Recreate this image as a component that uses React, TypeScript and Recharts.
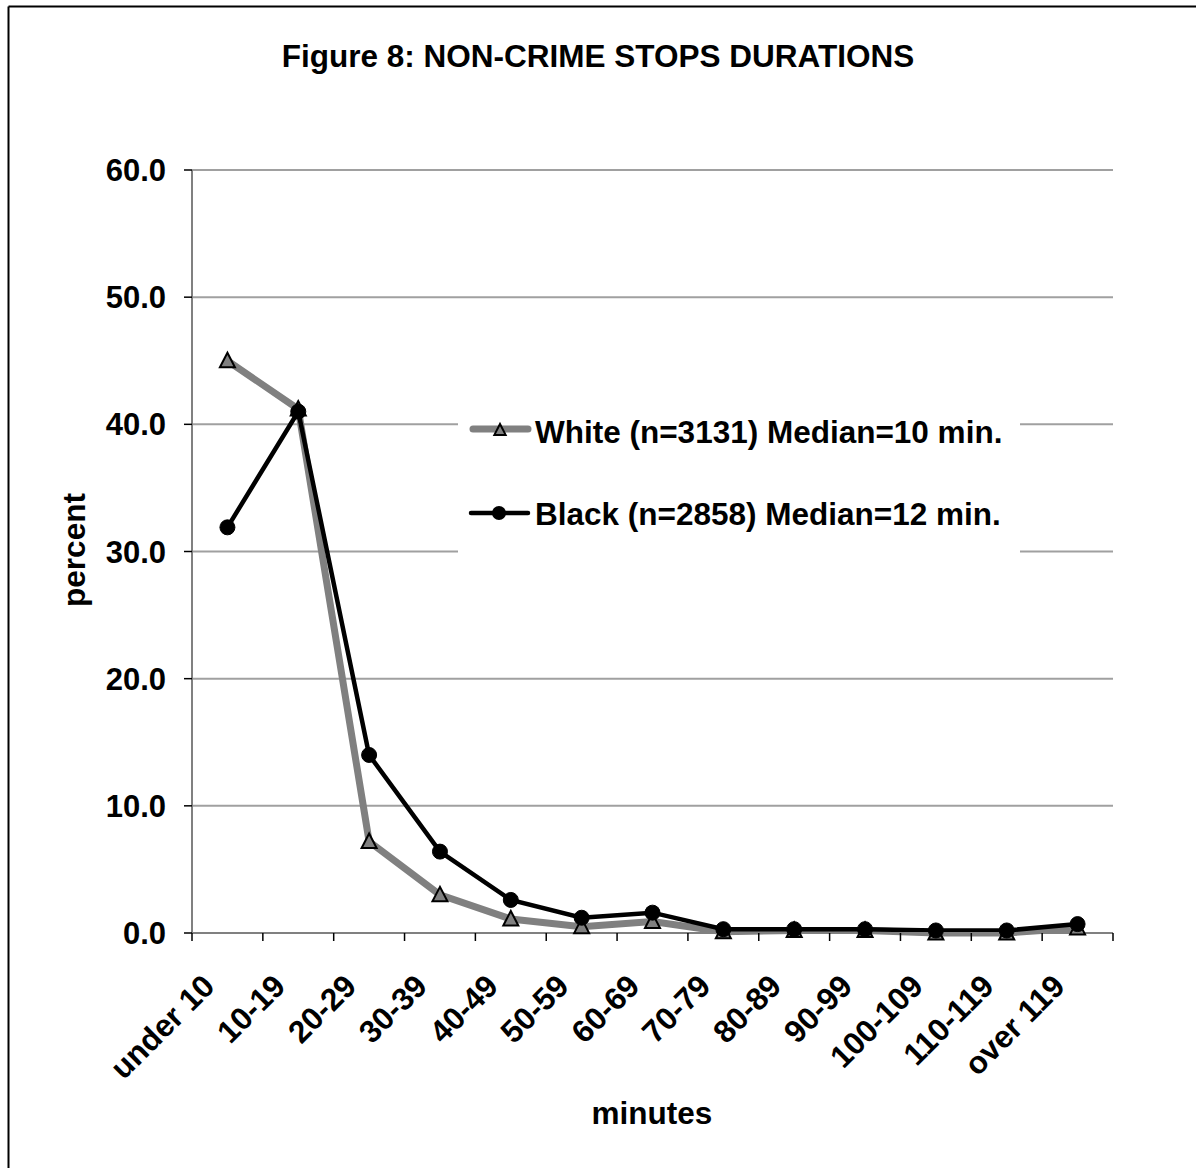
import React from "react";
import { LineChart, Line, XAxis, YAxis, CartesianGrid, Legend } from "recharts";

// durations of non-crime stops, percent of stops in each bracket
const categories = [
  "under 10", "10-19", "20-29", "30-39", "40-49", "50-59", "60-69",
  "70-79", "80-89", "90-99", "100-109", "110-119", "over 119",
];
const whitePct = [45.0, 41.2, 7.2, 3.0, 1.1, 0.5, 0.9, 0.1, 0.2, 0.2, 0.0, 0.0, 0.4];
const blackPct = [31.9, 41.0, 14.0, 6.4, 2.6, 1.2, 1.6, 0.3, 0.3, 0.3, 0.2, 0.2, 0.7];
const yTicks = [0, 10, 20, 30, 40, 50, 60];

const WHITE_LABEL = "White (n=3131) Median=10 min.";
const BLACK_LABEL = "Black (n=2858) Median=12 min.";

const W = 1196;
const H = 1168;
const Y_AXIS_W = 100;
const X_AXIS_H = 120;
const MARGIN = { top: 170, right: 83, bottom: 115, left: 92 };
const PLOT_W = W - MARGIN.left - Y_AXIS_W - MARGIN.right;
const BAND = PLOT_W / categories.length;

const FONT = '"Liberation Sans", Arial, sans-serif';
const FS = 31.5;
const GRAY = "#808080";

const data = categories.map((c, i) => ({ cat: c, white: whitePct[i], black: blackPct[i] }));

function Triangle({ cx, cy, size = 1 }: { cx?: number; cy?: number; size?: number }) {
  if (cx == null || cy == null) return null;
  const pts = `${cx},${cy - 8 * size} ${cx - 7.5 * size},${cy + 6.5 * size} ${cx + 7.5 * size},${cy + 6.5 * size}`;
  return <polygon points={pts} fill={GRAY} stroke="#000" strokeWidth={2} strokeLinejoin="miter" />;
}

function XTick(props: any) {
  const { x, y, payload, index } = props;
  const last = index === categories.length - 1;
  return (
    <g>
      <line x1={x - BAND / 2} x2={x - BAND / 2} y1={y - 8} y2={y} stroke="#000" strokeWidth={1.5} />
      {last && <line x1={x + BAND / 2} x2={x + BAND / 2} y1={y - 8} y2={y} stroke="#000" strokeWidth={1.5} />}
      <text
        x={x - 11}
        y={y + 47}
        textAnchor="end"
        transform={`rotate(-45, ${x - 11}, ${y + 47})`}
        fontFamily={FONT}
        fontWeight="bold"
        fontSize={FS}
        fill="#000"
      >
        {payload.value}
      </text>
    </g>
  );
}

function LegendBox() {
  return (
    <svg width={562} height={160} style={{ display: "block", background: "#fff" }}>
      <line x1={15} x2={70} y1={34} y2={34} stroke={GRAY} strokeWidth={7} strokeLinecap="round" />
      <Triangle cx={42} cy={35} size={0.75} />
      <text x={77} y={48} fontFamily={FONT} fontWeight="bold" fontSize={FS} fill="#000">
        {WHITE_LABEL}
      </text>
      <line x1={13} x2={70} y1={118} y2={118} stroke="#000" strokeWidth={4.5} strokeLinecap="round" />
      <circle cx={41} cy={118} r={7} fill="#000" />
      <text x={77} y={130} fontFamily={FONT} fontWeight="bold" fontSize={FS} fill="#000">
        {BLACK_LABEL}
      </text>
    </svg>
  );
}

export default function App() {
  return (
    <div style={{ position: "absolute", left: 0, top: 0, width: W, height: H, background: "#fff" }}>
      <LineChart width={W} height={H} data={data} margin={MARGIN}>
        <CartesianGrid vertical={false} stroke="#a0a0a0" strokeWidth={2} />
        <XAxis
          dataKey="cat"
          height={X_AXIS_H}
          interval={0}
          padding={{ left: BAND / 2, right: BAND / 2 }}
          axisLine={{ stroke: GRAY, strokeWidth: 2 }}
          tickLine={false}
          tickSize={8}
          tickMargin={0}
          tick={<XTick />}
        />
        <YAxis
          width={Y_AXIS_W}
          domain={[0, 60]}
          ticks={yTicks}
          interval={0}
          tickFormatter={(v: number) => v.toFixed(1)}
          axisLine={{ stroke: GRAY, strokeWidth: 2 }}
          tickLine={{ stroke: "#000", strokeWidth: 1.5 }}
          tickSize={8}
          tickMargin={18}
          tick={{ fontFamily: FONT, fontWeight: "bold", fontSize: 31, fill: "#000" }}
        />
        <Legend
          layout="vertical"
          align="center"
          verticalAlign="middle"
          content={() => <LegendBox />}
          wrapperStyle={{ position: "absolute", left: 458, top: 395, width: 562, height: 160 }}
        />
        <Line
          dataKey="white"
          name={WHITE_LABEL}
          stroke={GRAY}
          strokeWidth={7}
          dot={(p: any) => <Triangle key={`w-${p.index}`} cx={p.cx} cy={p.cy} />}
          isAnimationActive={false}
        />
        <Line
          dataKey="black"
          name={BLACK_LABEL}
          stroke="#000"
          strokeWidth={4.5}
          dot={{ r: 7.5, fill: "#000", stroke: "#000", strokeWidth: 1 }}
          isAnimationActive={false}
        />
      </LineChart>
      <svg
        width={W}
        height={H}
        style={{ position: "absolute", left: 0, top: 0, pointerEvents: "none" }}
      >
        <line x1={8.5} x2={W} y1={6.5} y2={6.5} stroke="#000" strokeWidth={2} />
        <line x1={8.5} x2={8.5} y1={6.5} y2={H} stroke="#000" strokeWidth={2} />
        <text x={598} y={67} textAnchor="middle" fontFamily={FONT} fontWeight="bold" fontSize={FS} fill="#000">
          Figure 8: NON-CRIME STOPS DURATIONS
        </text>
        <text
          x={85}
          y={550}
          textAnchor="middle"
          transform="rotate(-90, 85, 550)"
          fontFamily={FONT}
          fontWeight="bold"
          fontSize={FS}
          fill="#000"
        >
          percent
        </text>
        <text x={652} y={1124} textAnchor="middle" fontFamily={FONT} fontWeight="bold" fontSize={FS} fill="#000">
          minutes
        </text>
      </svg>
    </div>
  );
}
